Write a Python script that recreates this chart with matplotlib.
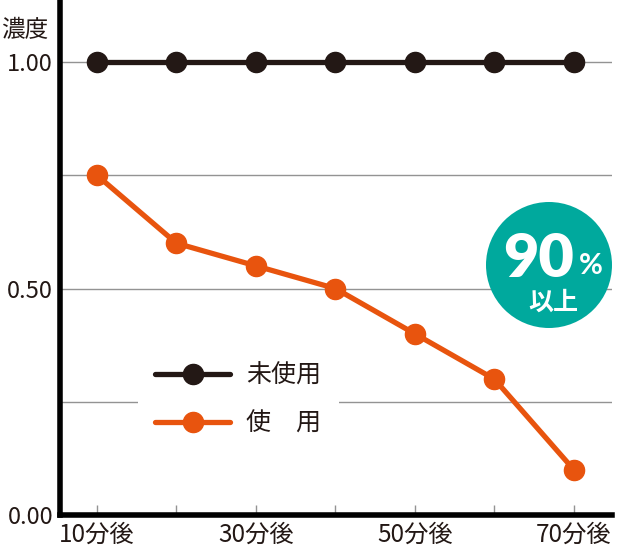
import matplotlib.pyplot as plt
from matplotlib.patches import Circle

plt.rcParams['font.family'] = ['Noto Sans CJK JP', 'DejaVu Sans']

categories = ["10分後", "20分後", "30分後", "40分後", "50分後", "60分後", "70分後"]
shown_labels = ["10分後", "", "30分後", "", "50分後", "", "70分後"]
unused = [1.00, 1.00, 1.00, 1.00, 1.00, 1.00, 1.00]
used = [0.75, 0.60, 0.55, 0.50, 0.40, 0.30, 0.10]
series_names = ["未使用", "使　用"]
ytick_values = [0.0, 0.25, 0.5, 0.75, 1.0]
ytick_labels = ["0.00", "", "0.50", "", "1.00"]

BLACK = "#231815"
ORANGE = "#E8540E"
TEAL = "#00A99D"

fig = plt.figure(figsize=(6.21, 5.55), dpi=100)
ax = fig.add_axes([60 / 621, 40 / 555, 552 / 621, 515 / 555])

x = list(range(len(categories)))
ax.plot(x, unused, color=BLACK, lw=3.8, marker="o", ms=14.5, label=series_names[0],
        solid_capstyle="round", zorder=4)
ax.plot(x, used, color=ORANGE, lw=3.8, marker="o", ms=14.5, label=series_names[1],
        solid_capstyle="round", zorder=4)

ax.set_xlim(-0.465, 6.48)
ax.set_ylim(0, 1.137)
ax.set_xticks(x)
ax.set_xticklabels(shown_labels)
ax.set_yticks(ytick_values)
ax.set_yticklabels(ytick_labels)
ax.grid(axis="y", color="#939393", lw=1.0, zorder=1)
ax.set_axisbelow(True)

ax.tick_params(axis="x", direction="in", length=7, width=1, color="#939393",
               labelsize=17.5, labelcolor=BLACK, pad=5)
ax.tick_params(axis="y", length=0, labelsize=17, labelcolor=BLACK, pad=5)
for side in ["top", "right"]:
    ax.spines[side].set_visible(False)
for side in ["left", "bottom"]:
    ax.spines[side].set_linewidth(4)
    ax.spines[side].set_color("black")

fig.text(1 / 621, 1 - 31 / 555, "濃度", fontsize=17, color=BLACK, va="center", ha="left")

leg = ax.legend(loc="center", bbox_to_anchor=(0.323, 0.224), fontsize=18,
                handlelength=3.0, handletextpad=0.65, labelspacing=0.85,
                borderpad=0.7, frameon=True, facecolor="white", edgecolor="none",
                framealpha=1, fancybox=False, borderaxespad=0)
for t in leg.get_texts():
    t.set_color(BLACK)

# 90%以上 badge
badge = Circle((5.49, 2.90), 0.63, transform=fig.dpi_scale_trans,
               facecolor=TEAL, edgecolor="none", zorder=5)
fig.add_artist(badge)
fig.text(539 / 621, 1 - 259 / 555, "90", fontsize=44, fontweight="heavy", color="white",
         ha="center", va="center", family=["Lato", "DejaVu Sans"], zorder=6)
fig.text(591 / 621, 1 - 266 / 555, "%", fontsize=21, fontweight="bold", color="white",
         ha="center", va="center", family=["Lato", "DejaVu Sans"], zorder=6)
fig.text(553 / 621, 1 - 303 / 555, "以上", fontsize=18, fontweight="bold", color="white",
         ha="center", va="center", zorder=6)

fig.savefig("out.png", dpi=100)
